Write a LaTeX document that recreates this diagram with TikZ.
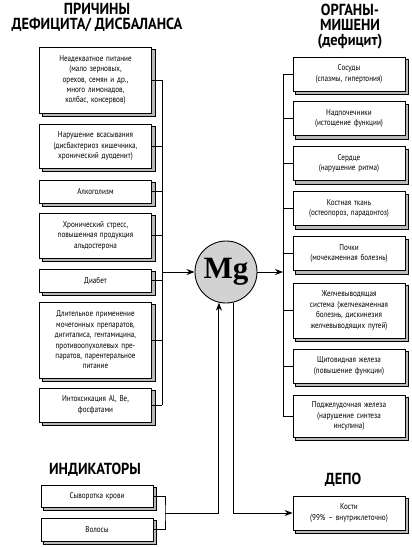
\documentclass[tikz,border=0pt]{standalone}
\usepackage{fontspec}
\setmainfont{PT Sans}
\newfontfamily\boxfont[FakeStretch=0.84]{PT Sans}
\newfontfamily\headfont[FakeStretch=0.9]{PT Sans}
\newfontfamily\mgfont{Liberation Serif}
\usetikzlibrary{backgrounds,arrows.meta}

\begin{document}
\begin{tikzpicture}[x=1pt, y=-1pt,
  box/.style={draw, fill=white, line width=0.8pt, align=center, text width=106pt,
    inner xsep=3pt, inner ysep=1pt, font=\boxfont\fontsize{8.5}{10.4}\selectfont},
  boxshade/.style={draw, fill=gray!55, line width=0.7pt},
  head/.style={font=\headfont\bfseries\fontsize{16}{15}\selectfont, align=center},
  link/.style={line width=0.9pt},
  arr/.style={link, -{Stealth[length=8pt, width=6pt]}}]
  \useasboundingbox (0,0) rectangle (412,547);

  % Headings
  \node[head] (causes-title) at (97,17) {ПРИЧИНЫ\\ДЕФИЦИТА/ ДИСБАЛАНСА};
  \node[head] (organs-title) at (350,27) {ОРГАНЫ-\\МИШЕНИ\\(дефицит)};
  \node[head] (ind-title) at (95,470) {ИНДИКАТОРЫ};
  \node[head] (depot-title) at (343,480) {ДЕПО};

  % Causes (left column)
  \node[box, minimum height=66pt] (c1) at (95.5,80) {Неадекватное питание\\(мало зерновых,\\орехов, семян и др.,\\много лимонадов,\\колбас, консервов)};
  \node[box, minimum height=44pt] (c2) at (95.5,146) {Нарушение всасывания\\(дисбактериоз кишечника,\\хронический дуоденит)};
  \node[box, minimum height=23pt] (c3) at (95.5,191.5) {Алкоголизм};
  \node[box, minimum height=45pt] (c4) at (95.5,235.5) {Хронический стресс,\\повышенная продукция\\альдостерона};
  \node[box, minimum height=23pt] (c5) at (95.5,280.5) {Диабет};
  \node[box, minimum height=76pt] (c6) at (95.5,340) {Длительное применение\\мочегонных препаратов,\\дигиталиса, гентамицина,\\противоопухолевых пре-\\паратов, парентеральное\\питание};
  \node[box, minimum height=34pt] (c7) at (95.5,405) {Интоксикация Al, Be,\\фосфатами};

  % Target organs (right column)
  \node[box, minimum height=34pt] (o1) at (349,74) {Сосуды\\(спазмы, гипертония)};
  \node[box, minimum height=34pt] (o2) at (349,118.5) {Надпочечники\\(истощение функции)};
  \node[box, minimum height=34pt] (o3) at (349,163.5) {Сердце\\(нарушение ритма)};
  \node[box, minimum height=34pt] (o4) at (349,208.5) {Костная ткань\\(остеопороз, парадонтоз)};
  \node[box, minimum height=34pt] (o5) at (349,253.5) {Почки\\(мочекаменная болезнь)};
  \node[box, minimum height=55pt] (o6) at (349,310.5) {Желчевыводящая\\система (желчекаменная\\болезнь, дискинезия\\желчевыводящих путей)};
  \node[box, minimum height=34pt] (o7) at (349,366) {Щитовидная железа\\(повышение функции)};
  \node[box, minimum height=42pt] (o8) at (349,416) {Поджелудочная железа\\(нарушение синтеза\\инсулина)};

  % Indicators and depot
  \node[box, minimum height=22pt] (i1) at (97,496) {Сыворотка крови};
  \node[box, minimum height=23pt] (i2) at (97,529.5) {Волосы};
  \node[box, minimum height=34pt] (depot) at (349,513) {Кости\\(99\% – внутриклеточно)};

  % Offset shadow behind every box
  \begin{scope}[on background layer]
    \foreach \n in {c1,c2,c3,c4,c5,c6,c7,o1,o2,o3,o4,o5,o6,o7,o8,i1,i2,depot}
      \draw[boxshade] ([shift={(3pt,-3pt)}]\n.north west) rectangle ([shift={(3pt,-3pt)}]\n.south east);
  \end{scope}

  % Magnesium
  \node[circle, draw, fill=gray!35, line width=0.9pt, minimum size=62pt, inner sep=0pt,
    font=\mgfont\bfseries\fontsize{31}{31}\selectfont] (mg) at (226,272) {Mg};

  % Left bus into Mg
  \coordinate (lbus) at (162,0);
  \foreach \i in {1,...,7} \draw[link] (c\i.east) -- (c\i.east -| lbus);
  \draw[link] (c1.east -| lbus) -- (c7.east -| lbus);
  \draw[arr] (mg.west -| lbus) -- (mg.west);

  % Mg out to the organs
  \coordinate (rbus) at (283,0);
  \draw[arr] (mg.east) -- (mg.east -| rbus);
  \foreach \i in {1,...,8} \draw[link] (o\i.west -| rbus) -- (o\i.west);
  \draw[link] (o1.west -| rbus) -- (o8.west -| rbus);

  % Indicators up, depot down
  \coordinate (ibus) at (165,513);
  \draw[link] (i1.east) -| (ibus) |- (i2.east);
  \draw[arr] (ibus) -| (mg.-103);
  \draw[arr] (mg.-76) |- (depot.west);
\end{tikzpicture}
\end{document}
